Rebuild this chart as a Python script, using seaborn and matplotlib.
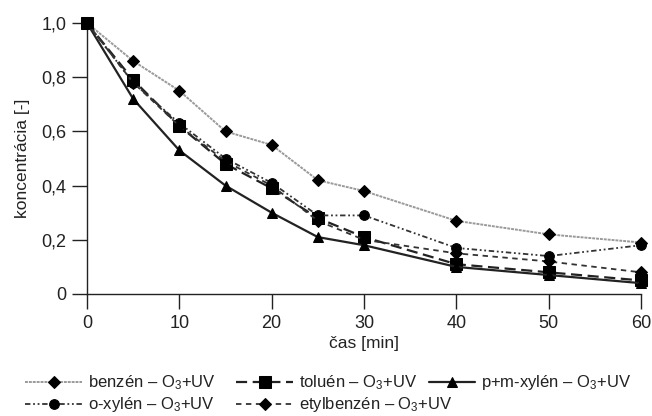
import matplotlib
matplotlib.use("Agg")
import matplotlib.pyplot as plt
import seaborn as sns
import numpy as np

time_min = [0, 5, 10, 15, 20, 25, 30, 40, 50, 60]
benzen = [1.0, 0.86, 0.75, 0.60, 0.55, 0.42, 0.38, 0.27, 0.22, 0.19]
toluen = [1.0, 0.79, 0.62, 0.48, 0.39, 0.28, 0.21, 0.11, 0.08, 0.05]
pm_xylen = [1.0, 0.72, 0.53, 0.40, 0.30, 0.21, 0.18, 0.10, 0.07, 0.04]
o_xylen = [1.0, 0.78, 0.63, 0.50, 0.41, 0.29, 0.29, 0.17, 0.14, 0.18]
etylbenzen = [1.0, 0.78, 0.62, 0.49, 0.40, 0.27, 0.20, 0.15, 0.12, 0.08]

labels = ["benzén", "toluén", "p+m-xylén", "o-xylén", "etylbenzén"]
suffix = r" – $\mathregular{O_3}$+UV"
x_ticks = [0, 10, 20, 30, 40, 50, 60]
y_ticks = [0, 0.2, 0.4, 0.6, 0.8, 1.0]
y_ticklabels = ["0", "0,2", "0,4", "0,6", "0,8", "1,0"]

sns.set_theme(style="ticks")
plt.rcParams["font.family"] = ["Liberation Sans", "DejaVu Sans"]
plt.rcParams["mathtext.fontset"] = "custom"
plt.rcParams["mathtext.rm"] = "Liberation Sans"

fig = plt.figure(figsize=(6.52, 4.16), dpi=100)
ax = fig.add_axes([87 / 652, 1 - 294 / 416, (641 - 87) / 652, (294 - 23) / 416])

styles = [
    (benzen, dict(color="#9a9a9a", linestyle=(0, (1.5, 0.5)), lw=1.4, marker="D", markersize=6.5,
                  markerfacecolor="black", markeredgecolor="black")),
    (toluen, dict(color="#222222", linestyle=(0, (5, 2.5)), lw=1.6, marker="s", markersize=8,
                  markerfacecolor="black", markeredgecolor="black")),
    (pm_xylen, dict(color="#222222", linestyle="-", lw=1.6, marker="^", markersize=7.5,
                    markerfacecolor="black", markeredgecolor="black")),
    (o_xylen, dict(color="#333333", linestyle=(0, (3, 1.5, 1, 1.5, 1, 1.5)), lw=1.3, marker="o", markersize=7,
                   markerfacecolor="black", markeredgecolor="black")),
    (etylbenzen, dict(color="#333333", linestyle=(0, (3, 2.5)), lw=1.3, marker="D", markersize=6.5,
                      markerfacecolor="black", markeredgecolor="black")),
]

for (vals, kw), lab in zip(styles, labels):
    sns.lineplot(x=time_min, y=vals, ax=ax, label=lab + suffix, clip_on=False, zorder=3, **kw)

ax.set_xlim(0, 60)
ax.set_ylim(0, 1.0)
ax.set_xticks(x_ticks)
ax.set_xticklabels([str(t) for t in x_ticks])
ax.set_yticks(y_ticks)
ax.set_yticklabels(y_ticklabels)
ax.tick_params(axis="both", direction="out", length=11, width=1.0, color="#222222",
               labelsize=13, labelcolor="#222222", pad=4)
sns.despine(ax=ax)
for s in ["left", "bottom"]:
    ax.spines[s].set_color("#222222")
    ax.spines[s].set_linewidth(1.0)
ax.set_xlabel("čas [min]", fontsize=12.5, color="#222222", labelpad=3)
ax.set_ylabel("koncentrácia [-]", fontsize=12.5, color="#222222", labelpad=8)

handles, labs = ax.get_legend_handles_labels()
ax.get_legend().remove()

# per-entry legend placement (figure pixels): (x of handle start, y center, handle length px)
placements = [(25, 383, 57), (236, 383, 57), (429, 383, 46), (25, 405, 57), (236, 405, 57)]
fs = 12
em = fs * 100 / 72
for h, l, (px, py, hl) in zip(handles, labs, placements):
    fig.legend([h], [l], loc="center left", bbox_to_anchor=(px / 652, 1 - py / 416),
               frameon=False, fontsize=fs, handlelength=hl / em, handletextpad=6 / em,
               borderpad=0, borderaxespad=0, labelcolor="#222222")

fig.savefig("out.png", dpi=100)
